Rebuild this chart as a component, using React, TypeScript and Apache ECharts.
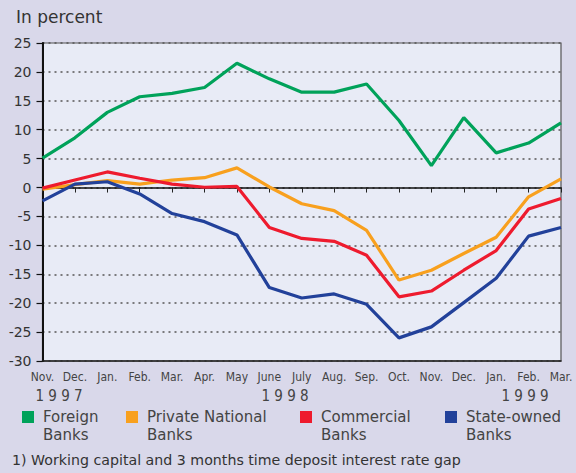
import React, { useEffect, useRef } from "react";
import * as echarts from "echarts";

const categories = [
  "Nov.|1997", "Dec.|1997", "Jan.|1998", "Feb.|1998", "Mar.|1998", "Apr.|1998",
  "May|1998", "June|1998", "July|1998", "Aug.|1998", "Sep.|1998", "Oct.|1998",
  "Nov.|1998", "Dec.|1998", "Jan.|1999", "Feb.|1999", "Mar.|1999",
];
const seriesNames = ["Foreign Banks", "Private National Banks", "Commercial Banks", "State-owned Banks"];
const foreignBanks = [5.1, 8.6, 13.0, 15.7, 16.3, 17.3, 21.5, 18.8, 16.5, 16.5, 17.9, 11.6, 3.8, 12.1, 6.0, 7.7, 11.2];
const privateNationalBanks = [-0.3, 0.5, 1.2, 0.6, 1.3, 1.7, 3.4, 0.1, -2.8, -4.0, -7.4, -16.0, -14.3, -11.4, -8.6, -1.6, 1.5];
const commercialBanks = [-0.1, 1.3, 2.7, 1.6, 0.6, 0.05, 0.2, -6.9, -8.8, -9.3, -11.7, -18.9, -17.9, -14.3, -10.9, -3.7, -1.9];
const stateOwnedBanks = [-2.3, 0.6, 1.0, -1.1, -4.5, -5.9, -8.2, -17.3, -19.1, -18.4, -20.2, -26.0, -24.1, -19.9, -15.7, -8.4, -6.9];
const yearLabels = ["1 9 9 7", "1 9 9 8", "1 9 9 9"];
const titleText = "In percent";
const footnoteText = "1) Working capital and 3 months time deposit interest rate gap";

const colors = ["#00A25A", "#F8A01E", "#EE1B2E", "#22419A"];
const FONT = "'DejaVu Sans', sans-serif";
const FONT_C = "'DejaVu Sans Condensed', 'DejaVu Sans', sans-serif";

export default function App() {
  const ref = useRef<HTMLDivElement>(null);
  useEffect(() => {
    if (!ref.current) return;
    const chart = echarts.init(ref.current, null, { renderer: "svg" });
    const values = [foreignBanks, privateNationalBanks, commercialBanks, stateOwnedBanks];
    const legendLefts = [22, 126, 300, 445];
    const option: any = {
      animation: false,
      backgroundColor: "#D9D8EA",
      grid: {
        left: 42.5,
        right: 15,
        top: 43,
        bottom: 112,
        show: true,
        backgroundColor: "#E8EBF6",
        borderColor: "#555",
        borderWidth: 1.2,
      },
      xAxis: [
        {
          type: "category",
          position: "bottom",
          data: categories,
          boundaryGap: false,
          axisLine: { show: true, onZero: false, lineStyle: { color: "#222", width: 1.5 } },
          axisTick: { show: false },
          axisLabel: {
            formatter: (v: string) => v.split("|")[0],
            fontFamily: FONT_C,
            fontSize: 12,
            color: "#444",
            margin: 10,
            interval: 0,
          },
          splitLine: { show: false },
        },
        {
          type: "category",
          position: "bottom",
          data: categories,
          boundaryGap: false,
          axisLine: { show: true, onZero: true, lineStyle: { color: "#111", width: 1.5 } },
          axisTick: { show: true, length: 5, interval: 0, lineStyle: { color: "#222", width: 1 } },
          axisLabel: { show: false },
          splitLine: { show: false },
        },
      ],
      yAxis: {
        type: "value",
        min: -30,
        max: 25,
        interval: 5,
        axisLine: { show: true, lineStyle: { color: "#111", width: 2 } },
        axisTick: { show: true, length: 6, lineStyle: { color: "#111", width: 1.2 } },
        axisLabel: { fontFamily: FONT, fontSize: 14, color: "#333", margin: 11 },
        splitLine: { show: true, lineStyle: { type: [2, 4], color: "#555", width: 1.5 } },
      },
      legend: seriesNames.map((name, i) => ({
        data: [{ name, icon: "rect" }],
        left: legendLefts[i],
        top: 390,
        padding: 0,
        itemWidth: 12,
        itemHeight: 12,
        formatter: (n: string) => "\n" + n.replace(/ (\S+)$/, "\n$1"),
        textStyle: {
          fontFamily: FONT,
          fontSize: 15,
          color: "#444",
          lineHeight: 18,
          padding: [0, 0, 0, 4],
        },
        selectedMode: false,
      })),
      graphic: [
        { type: "text", left: 16, top: 8, style: { text: titleText, font: `17px ${FONT}`, fill: "#333" } },
        { type: "text", x: 59, y: 396, style: { text: yearLabels[0], font: `15px ${FONT_C}`, fill: "#444", align: "center", verticalAlign: "middle" } },
        { type: "text", x: 285, y: 396, style: { text: yearLabels[1], font: `15px ${FONT_C}`, fill: "#444", align: "center", verticalAlign: "middle" } },
        { type: "text", x: 525, y: 396, style: { text: yearLabels[2], font: `15px ${FONT_C}`, fill: "#444", align: "center", verticalAlign: "middle" } },
        { type: "text", left: 12, top: 453, style: { text: footnoteText, font: `14.2px ${FONT}`, fill: "#333" } },
      ],
      series: seriesNames.map((name, i) => ({
        name,
        type: "line",
        data: values[i],
        showSymbol: false,
        symbol: "none",
        lineStyle: { color: colors[i], width: 3.2 },
        itemStyle: { color: colors[i] },
        z: 3,
      })),
    };
    chart.setOption(option);
    return () => chart.dispose();
  }, []);
  return <div ref={ref} style={{ width: 576, height: 473, position: "fixed", left: 0, top: 0 }} />;
}
